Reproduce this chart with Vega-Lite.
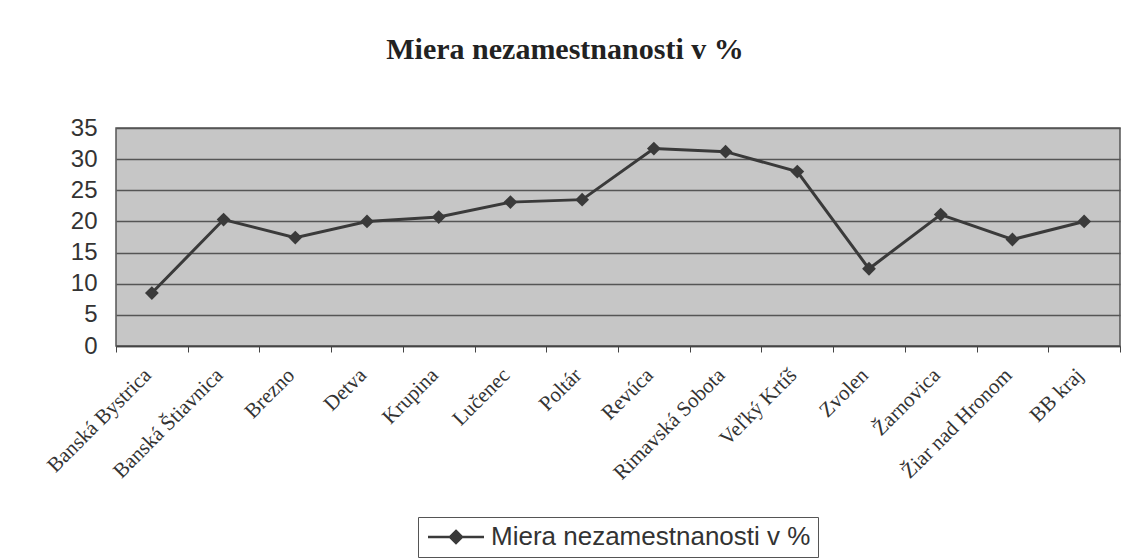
{
  "$schema": "https://vega.github.io/schema/vega-lite/v6.json",
  "autosize": {"type": "none"},
  "width": 1004,
  "height": 218,
  "padding": {"left": 116, "top": 128, "right": 13, "bottom": 214},
  "background": "white",
  "title": {
    "text": "Miera nezamestnanosti v %",
    "font": "Liberation Serif",
    "fontSize": 30,
    "fontWeight": "bold",
    "color": "#222222",
    "anchor": "middle",
    "dx": -53,
    "offset": 51
  },
  "data": {
    "values": [
      {"okres": "Banská Bystrica", "miera": 8.5},
      {"okres": "Banská Štiavnica", "miera": 20.3},
      {"okres": "Brezno", "miera": 17.4},
      {"okres": "Detva", "miera": 20.0},
      {"okres": "Krupina", "miera": 20.7},
      {"okres": "Lučenec", "miera": 23.1},
      {"okres": "Poltár", "miera": 23.5},
      {"okres": "Revúca", "miera": 31.7},
      {"okres": "Rimavská Sobota", "miera": 31.2},
      {"okres": "Veľký Krtíš", "miera": 28.0},
      {"okres": "Zvolen", "miera": 12.4},
      {"okres": "Žarnovica", "miera": 21.1},
      {"okres": "Žiar nad Hronom", "miera": 17.1},
      {"okres": "BB kraj", "miera": 20.0}
    ]
  },
  "mark": {
    "type": "line",
    "strokeWidth": 3,
    "point": {"shape": "diamond", "size": 190, "filled": true, "color": "#3a3a3a"}
  },
  "encoding": {
    "x": {
      "field": "okres",
      "type": "nominal",
      "sort": null,
      "scale": {"type": "band", "paddingInner": 0, "paddingOuter": 0},
      "axis": {
        "title": null,
        "labelAngle": -45,
        "labelFont": "Liberation Serif",
        "labelFontSize": 21,
        "labelColor": "#333333",
        "labelPadding": 12,
        "labelOffset": -12,
        "labelLimit": 400,
        "tickBand": "extent",
        "ticks": true,
        "tickSize": 6,
        "tickColor": "#444444",
        "domainColor": "#444444",
        "domainWidth": 1.5,
        "grid": false
      }
    },
    "y": {
      "field": "miera",
      "type": "quantitative",
      "scale": {"domain": [0, 35], "nice": false},
      "axis": {
        "title": null,
        "values": [0, 5, 10, 15, 20, 25, 30, 35],
        "labelFont": "Liberation Sans",
        "labelFontSize": 24,
        "labelColor": "#333333",
        "labelPadding": 19,
        "ticks": false,
        "domain": false,
        "grid": true,
        "gridColor": "#555555",
        "gridWidth": 1.3
      }
    },
    "color": {
      "datum": "Miera nezamestnanosti v %",
      "type": "nominal",
      "scale": {"range": ["#3a3a3a"]},
      "legend": {
        "title": null,
        "orient": "none",
        "legendX": 302,
        "legendY": 389,
        "strokeColor": "#555555",
        "padding": 7,
        "labelFont": "Liberation Sans",
        "labelFontSize": 26,
        "labelColor": "#333333",
        "labelLimit": 500,
        "symbolType": "M-1,0L4.6,0M1.8,-0.6L2.4,0L1.8,0.6L1.2,0Z",
        "symbolSize": 400,
        "symbolStrokeWidth": 2.5,
        "symbolStrokeColor": "#3a3a3a",
        "symbolFillColor": "#3a3a3a",
        "labelOffset": 40
      }
    }
  },
  "config": {
    "view": {"fill": "#c6c6c6", "stroke": "#555555", "strokeWidth": 1.5}
  }
}
